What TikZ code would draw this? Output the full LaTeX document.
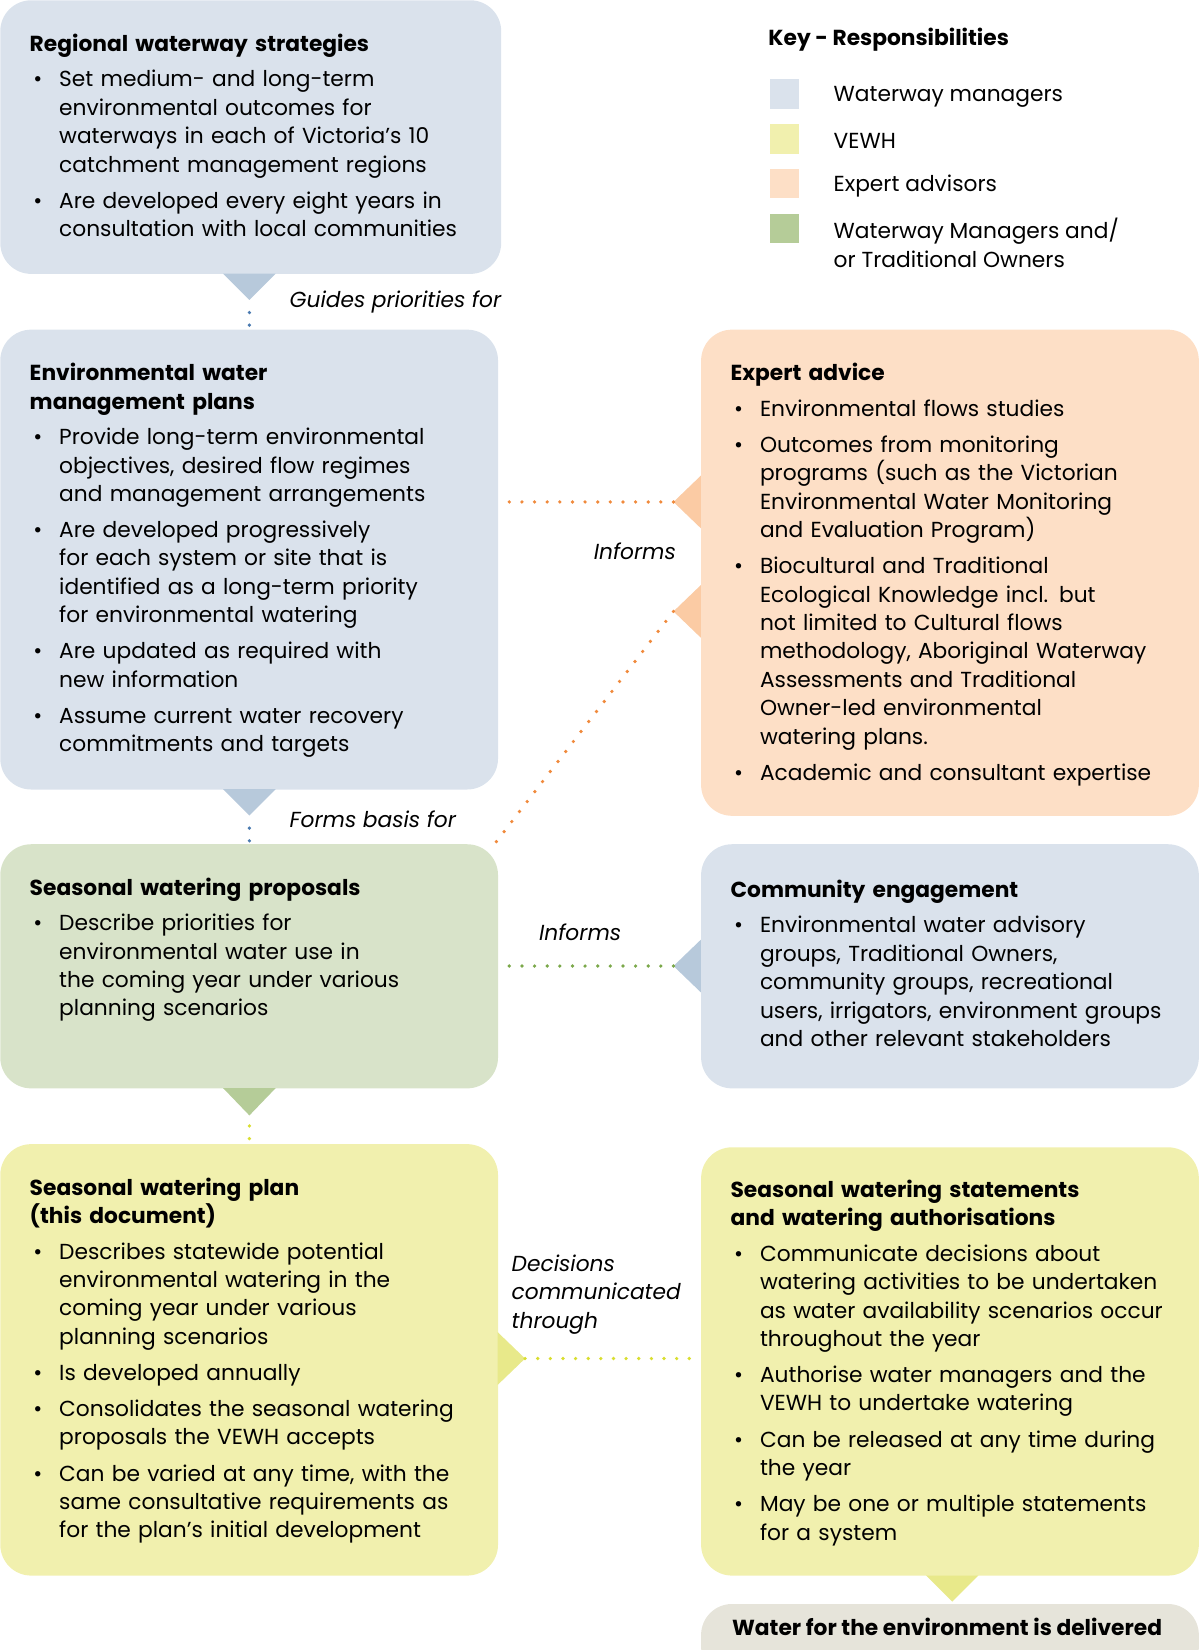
\documentclass[tikz,border=0pt]{standalone}
\usepackage{fontspec}
\setmainfont{Poppins}
\usepackage{enumitem}
\usetikzlibrary{positioning,calc}
\setlist[itemize]{leftmargin=21pt,labelsep=12pt,itemsep=5.5pt,topsep=5pt,parsep=0pt,partopsep=0pt,label=\textbullet}
\definecolor{wmblue}{HTML}{DAE2EC}
\definecolor{wmbluetri}{HTML}{B7C9DB}
\definecolor{wmbluedot}{HTML}{4A7AB0}
\definecolor{expeach}{HTML}{FDDFC6}
\definecolor{expeachtri}{HTML}{FBCBA4}
\definecolor{exdot}{HTML}{F08A3C}
\definecolor{togreen}{HTML}{D8E3C9}
\definecolor{togreentri}{HTML}{B5CC98}
\definecolor{togreendot}{HTML}{7BA84A}
\definecolor{vyellow}{HTML}{F1F0AE}
\definecolor{vyellowtri}{HTML}{E8E98A}
\definecolor{vyellowdot}{HTML}{D9DE30}
\definecolor{delgrey}{HTML}{E6E4DA}
\begin{document}
\begin{tikzpicture}[x=0.75pt, y=-0.75pt, font=\fontsize{15.5}{20.25}\selectfont]
  \def\u{0.75pt}
  \tikzset{box/.style={anchor=north west, rounded corners=22pt, inner sep=0pt},
           txt/.style={anchor=north west, align=left, inner sep=0pt, text width=440*\u},
           link/.style={line width=3.5*\u, line cap=round, dash pattern=on 0pt off 12*\u},
           lbl/.style={anchor=west, inner sep=0pt, font=\fontsize{15.5}{20.25}\selectfont\itshape},
           key/.style={anchor=north west, minimum width=28*\u, minimum height=28*\u, inner sep=0pt}}
  \useasboundingbox (0,0) rectangle (1140,1568);

  % left column boxes
  \node[box, fill=wmblue, minimum width=476*\u, minimum height=260*\u] (reg) at (0,0) {};
  \node[box, fill=wmblue, minimum width=473*\u, minimum height=437*\u] (ewmp) at (0,313) {};
  \node[box, fill=togreen, minimum width=473*\u, minimum height=232*\u] (swp) at (0,802) {};
  \node[box, fill=vyellow, minimum width=473*\u, minimum height=410*\u] (plan) at (0,1087) {};

  % right column boxes
  \node[box, fill=expeach, minimum width=473*\u, minimum height=462*\u] (expert) at (666,313) {};
  \node[box, fill=wmblue, minimum width=473*\u, minimum height=232*\u] (comm) at (666,802) {};
  \node[box, fill=vyellow, minimum width=473*\u, minimum height=407*\u] (stmt) at (666,1090) {};
  \node[box, fill=delgrey, minimum width=473*\u, minimum height=70*\u] (deliv) at (666,1524) {};

  % triangles
  \fill[wmbluetri] (212,260) -- (262,260) -- (237,285) coordinate (t1) -- cycle;
  \fill[wmbluetri] (212,750) -- (262,750) -- (237,775) coordinate (t2) -- cycle;
  \fill[togreentri] (212,1034) -- (262,1034) -- (237,1060) coordinate (t3) -- cycle;
  \fill[vyellowtri] (880,1497) -- (930,1497) -- (905,1522) -- cycle;
  \fill[expeachtri] (666,452) -- (666,502) -- (640,477) coordinate (t4) -- cycle;
  \fill[expeachtri] (666,556) -- (666,606) -- (640,581) coordinate (t5) -- cycle;
  \fill[wmbluetri] (666,893) -- (666,943) -- (640,918) coordinate (t6) -- cycle;
  \fill[vyellowtri] (473,1266) -- (473,1316) -- (499,1291) coordinate (t7) -- cycle;

  % connection lines
  \draw[link, wmbluedot] ($(t1)+(0,12)$) -- (ewmp.north -| t1);
  \draw[link, wmbluedot] ($(t2)+(0,12)$) -- (swp.north -| t2);
  \draw[link, vyellowdot] ($(t3)+(0,10)$) -- (plan.north -| t3);
  \draw[link, exdot] (t4) -- (ewmp.east |- t4);
  \draw[link, exdot] (t5) -- (470,802);
  \draw[link, togreendot] (t6) -- (swp.east |- t6);
  \draw[link, vyellowdot] (t7) -- (stmt.west |- t7);

  % connector labels
  \node[lbl] (l1) at (275,287) {Guides priorities for};
  \node[lbl] (l2) at (564,524) {Informs};
  \node[lbl] (l3) at (275,779) {Forms basis for};
  \node[lbl] (l4) at (512,886) {Informs};
  \node[lbl, anchor=north west, align=left] (l5) at (486,1192) {Decisions\\communicated\\through};

  % box texts
  \node[txt, text width=445*\u] (regt) at (28,32) {\textbf{Regional waterway strategies}
    \begin{itemize}
      \item Set medium- and long-term\newline environmental outcomes for\newline waterways in each of Victoria's 10\newline catchment management regions
      \item Are developed every eight years in\newline consultation with local communities
    \end{itemize}};
  \node[txt] (ewmpt) at (28,345) {\textbf{Environmental water\\management plans}
    \begin{itemize}
      \item Provide long-term environmental\newline objectives, desired flow regimes\newline and management arrangements
      \item Are developed progressively\newline for each system or site that is\newline identified as a long-term priority\newline for environmental watering
      \item Are updated as required with\newline new information
      \item Assume current water recovery\newline commitments and targets
    \end{itemize}};
  \node[txt] (swpt) at (28,834) {\textbf{Seasonal watering proposals}
    \begin{itemize}
      \item Describe priorities for\newline environmental water use in\newline the coming year under various\newline planning scenarios
    \end{itemize}};
  \node[txt] (plant) at (28,1119) {\textbf{Seasonal watering plan\\(this document)}
    \begin{itemize}
      \item Describes statewide potential\newline environmental watering in the\newline coming year under various\newline planning scenarios
      \item Is developed annually
      \item Consolidates the seasonal watering\newline proposals the VEWH accepts
      \item Can be varied at any time, with the\newline same consultative requirements as\newline for the plan's initial development
    \end{itemize}};
  \node[txt] (expertt) at (694,345) {\textbf{Expert advice}
    \begin{itemize}
      \item Environmental flows studies
      \item Outcomes from monitoring\newline programs (such as the Victorian\newline Environmental Water Monitoring\newline and Evaluation Program)
      \item Biocultural and Traditional\newline Ecological Knowledge incl. but\newline not limited to Cultural flows\newline methodology, Aboriginal Waterway\newline Assessments and Traditional\newline Owner-led environmental\newline watering plans.
      \item Academic and consultant expertise
    \end{itemize}};
  \node[txt] (commt) at (694,836) {\textbf{Community engagement}
    \begin{itemize}
      \item Environmental water advisory\newline groups, Traditional Owners,\newline community groups, recreational\newline users, irrigators, environment groups\newline and other relevant stakeholders
    \end{itemize}};
  \node[txt] (stmtt) at (694,1121) {\textbf{Seasonal watering statements\\and watering authorisations}
    \begin{itemize}
      \item Communicate decisions about\newline watering activities to be undertaken\newline as water availability scenarios occur\newline throughout the year
      \item Authorise water managers and the\newline VEWH to undertake watering
      \item Can be released at any time during\newline the year
      \item May be one or multiple statements\newline for a system
    \end{itemize}};
  \node[anchor=center, inner sep=0pt, font=\fontsize{15.5}{20.25}\selectfont\bfseries] (delivt) at (900,1546) {Water for the environment is delivered};

  % key
  \node[anchor=west, inner sep=0pt, font=\fontsize{15.5}{20.25}\selectfont\bfseries] (keyt) at (730,38) {Key - Responsibilities};
  \node[key, fill=wmblue] (k1) at (731,75) {};
  \node[key, fill=vyellow] (k2) at (731,118) {};
  \node[key, fill=expeach] (k3) at (731,160) {};
  \node[key, fill=togreentri] (k4) at (731,203) {};
  \node[anchor=west, inner sep=0pt] (k1t) at (792,92) {Waterway managers};
  \node[anchor=west, inner sep=0pt] (k2t) at (792,134) {VEWH};
  \node[anchor=west, inner sep=0pt] (k3t) at (792,177) {Expert advisors};
  \node[anchor=north west, inner sep=0pt, align=left] (k4t) at (792,207) {Waterway Managers and/\\or Traditional Owners};
\end{tikzpicture}
\end{document}
